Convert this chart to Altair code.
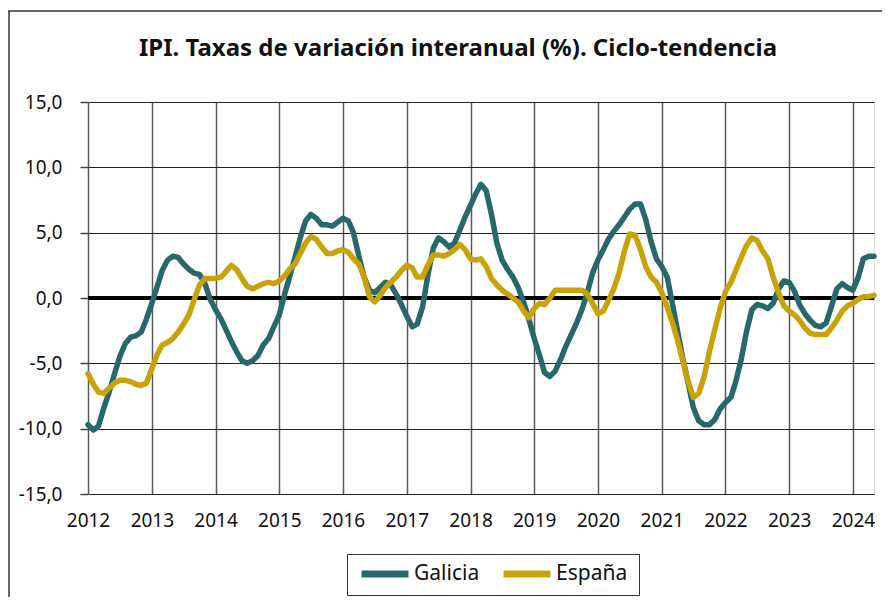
import altair as alt
import pandas as pd

# Monthly data, Jan 2012 .. May 2024 (149 months)
start_month = "2012-01-01"
n_months = 149

galicia = [
    -9.7, -10.1, -9.8, -8.4, -7.2, -5.8, -4.5, -3.5, -3.0, -2.9, -2.6, -1.6,   # 2012
    -0.4, 0.9, 2.1, 2.9, 3.2, 3.1, 2.6, 2.2, 1.9, 1.8, 1.1, -0.1,              # 2013
    -0.9, -1.6, -2.4, -3.3, -4.1, -4.8, -5.0, -4.8, -4.4, -3.6, -3.1, -2.2,    # 2014
    -1.3, 0.3, 1.6, 3.1, 4.6, 5.9, 6.4, 6.1, 5.6, 5.6, 5.5, 5.8,               # 2015
    6.1, 5.9, 5.0, 3.2, 1.6, 0.6, 0.4, 0.8, 1.2, 1.0, 0.3, -0.5,               # 2016
    -1.4, -2.2, -2.0, -0.7, 1.7, 3.8, 4.6, 4.3, 3.9, 4.2, 5.2, 6.2,            # 2017
    7.1, 8.0, 8.7, 8.2, 6.4, 4.2, 2.9, 2.2, 1.6, 0.8, -0.3, -1.6,              # 2018
    -3.1, -4.4, -5.7, -6.0, -5.6, -4.7, -3.7, -2.8, -1.9, -0.9, 0.4, 1.9,      # 2019
    2.9, 3.7, 4.5, 5.1, 5.6, 6.2, 6.8, 7.2, 7.2, 6.0, 4.3, 3.0,                # 2020
    2.4, 1.6, -0.3, -2.5, -4.6, -6.5, -8.4, -9.4, -9.7, -9.7, -9.3, -8.5,      # 2021
    -8.0, -7.6, -6.4, -4.7, -2.6, -0.9, -0.5, -0.6, -0.8, -0.4, 0.7, 1.3,      # 2022
    1.2, 0.5, -0.5, -1.2, -1.7, -2.1, -2.2, -1.9, -0.6, 0.7, 1.1, 0.8,         # 2023
    0.6, 1.6, 3.0, 3.2, 3.2,                                                   # 2024
]

espana = [
    -5.8, -6.6, -7.2, -7.3, -6.9, -6.5, -6.3, -6.3, -6.4, -6.6, -6.7, -6.5,    # 2012
    -5.4, -4.3, -3.6, -3.4, -3.1, -2.6, -2.0, -1.3, -0.1, 1.0, 1.5, 1.5,       # 2013
    1.5, 1.6, 2.0, 2.5, 2.2, 1.5, 0.9, 0.7, 0.9, 1.1, 1.2, 1.1,                # 2014
    1.3, 1.7, 2.2, 2.6, 3.4, 4.2, 4.7, 4.5, 3.9, 3.4, 3.4, 3.6,                # 2015
    3.7, 3.5, 3.0, 2.6, 1.6, 0.1, -0.3, 0.2, 0.8, 1.2, 1.6, 2.1,               # 2016
    2.5, 2.3, 1.6, 1.6, 2.5, 3.3, 3.3, 3.2, 3.4, 3.7, 4.1, 3.7,                # 2017
    3.0, 2.9, 3.0, 2.4, 1.5, 1.0, 0.6, 0.3, 0.0, -0.3, -1.0, -1.5,             # 2018
    -0.8, -0.4, -0.5, 0.0, 0.6, 0.6, 0.6, 0.6, 0.6, 0.6, 0.3, -0.4,            # 2019
    -1.2, -1.0, -0.2, 0.7, 1.9, 3.6, 4.9, 4.8, 3.7, 2.4, 1.6, 1.2,             # 2020
    0.4, -0.7, -1.8, -3.2, -4.8, -6.4, -7.6, -7.3, -6.0, -4.1, -2.4, -0.8,     # 2021
    0.5, 1.2, 2.1, 3.1, 4.0, 4.6, 4.4, 3.6, 3.0, 1.6, 0.4, -0.6,               # 2022
    -1.0, -1.3, -1.7, -2.3, -2.7, -2.8, -2.8, -2.8, -2.3, -1.7, -1.0, -0.6,    # 2023
    -0.4, -0.1, 0.1, 0.1, 0.2,                                                 # 2024
]

series_names = ["Galicia", "España"]
series_colors = ["#27686b", "#c9a208"]
year_ticks = list(range(2012, 2025))
y_ticks = [-15, -10, -5, 0, 5, 10, 15]
title_text = "IPI. Taxas de variación interanual (%). Ciclo-tendencia"

dates = pd.date_range(start_month, periods=n_months, freq="MS").strftime("%Y-%m-%d")
df = pd.concat([
    pd.DataFrame({"fecha": dates, "valor": galicia, "serie": "Galicia"}),
    pd.DataFrame({"fecha": dates, "valor": espana, "serie": "España"}),
])

FONT = "Noto Sans"

x_enc = alt.X(
    "fecha:T",
    scale=alt.Scale(
        type="utc",
        domain=[alt.DateTime(year=2012, month=1, date=1, utc=True),
                alt.DateTime(year=2024, month=5, date=1, utc=True)],
        nice=False,
    ),
    axis=alt.Axis(
        values=[alt.DateTime(year=y, month=1, date=1, utc=True) for y in year_ticks],
        format="%Y", title=None, grid=True, gridColor="#5a5a5a", gridWidth=1.5,
        gridOpacity=1, ticks=False, domain=False, labelPadding=17,
        labelFontSize=19, labelColor="#111", labelFont=FONT, labelFlush=False,
    ),
)

y_enc = alt.Y(
    "valor:Q",
    scale=alt.Scale(domain=[-15, 15], nice=False, zero=False),
    axis=alt.Axis(
        values=y_ticks, title=None, grid=True, gridColor="#222", gridWidth=1.2,
        gridOpacity=1, ticks=True, tickSize=8, tickColor="#444", tickWidth=1.5,
        domain=False, labelPadding=18, labelFontSize=19, labelColor="#111",
        labelFont=FONT,
        labelExpr="replace(replace(format(datum.value, '.1f'), '.', ','), '\u2212', '-')",
    ),
)

lines = alt.Chart(df).mark_line(strokeWidth=5.5, strokeJoin="round", strokeCap="round").encode(
    x=x_enc,
    y=y_enc,
    color=alt.Color(
        "serie:N",
        scale=alt.Scale(domain=series_names, range=series_colors),
        sort=series_names,
        legend=alt.Legend(
            title=None, orient="none", legendX=259, legendY=452, direction="horizontal",
            symbolType="stroke", symbolSize=2209, symbolStrokeWidth=7, clipHeight=18,
            labelFontSize=21, labelFont=FONT, labelColor="#111", labelOffset=2,
            columnPadding=20, padding=11, strokeColor="#333", fillColor="white",
        ),
    ),
)

zero = alt.Chart(pd.DataFrame({"y": [0]})).mark_rule(color="black", strokeWidth=4).encode(y="y:Q")

frame_top = alt.Chart(pd.DataFrame({"a": [0]})).mark_rule(color="#333", strokeWidth=1.5).encode(
    x=alt.value(-80), x2=alt.value(820), y=alt.value(-91)
)
frame_left = alt.Chart(pd.DataFrame({"a": [0]})).mark_rule(color="#333", strokeWidth=1.5).encode(
    x=alt.value(-79), y=alt.value(-91), y2=alt.value(510)
)

chart = alt.layer(zero, lines, frame_top, frame_left).properties(
    width=786, height=392,
    autosize=alt.AutoSizeParams(type="none"),
    padding={"left": 80, "top": 94, "right": 8, "bottom": 103},
    title=alt.TitleParams(
        title_text, font=FONT, fontSize=24, fontWeight="bold", color="#111",
        anchor="middle", frame="group", dx=-23, offset=-51,
    ),
).configure_view(
    fill="#f8f4e6", stroke="#8c8c8c", strokeWidth=2
).configure(background="white")

chart.save("out.html", embed_options={"renderer": "svg", "actions": False})
